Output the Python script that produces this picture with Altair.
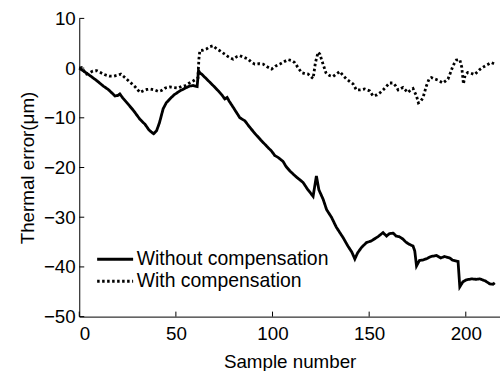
import altair as alt
import pandas as pd

# "Without compensation" series
wo_x = [0, 3, 5.5, 9, 12.4, 15, 18.5, 20, 21, 22.5, 24.5, 28, 31.4, 34, 36, 37.4, 38.5, 40, 41.5, 43.4,
        45, 46.9, 49, 52, 55, 57.2, 59, 61, 61.7, 62.5, 63.3, 65.9, 69, 72, 74, 75.3, 76.5, 77.5, 80, 83.1,
        85.7, 88.2, 91, 94, 97.7, 99.5, 101.2, 103, 105.5, 107, 109, 112, 115.8, 118, 121, 122.7, 124, 126.2,
        128, 130.5, 133, 136.5, 139, 141, 142.6, 144, 146, 148.6, 151, 154.6, 157.2, 159, 160.5, 162.4, 164,
        165.5, 167.5, 169, 170.5, 172.7, 173.6, 174.5, 176, 177.9, 180, 182, 184.8, 187, 189, 191.7, 193,
        196, 196.9, 198.5, 200.3, 203, 205.5, 207.2, 210, 212.4, 214.1, 215]
wo_y = [0, -0.8, -1.5, -2.5, -3.6, -4.3, -5.6, -5.5, -5.2, -6.0, -6.9, -8.5, -10.3, -11.3, -12.4, -12.9, -13.2, -12.6, -11.0, -8.2,
        -7.0, -6.2, -5.4, -4.6, -4.0, -3.6, -3.5, -3.7, -0.5, -1.0, -1.2, -2.2, -3.4, -4.6, -5.5, -6.2, -5.9, -6.6, -8.1, -10.0,
        -10.6, -11.9, -13.2, -14.5, -16.0, -16.7, -17.6, -18.0, -18.8, -19.8, -20.7, -21.8, -23.0, -24.3, -25.8, -21.7, -24.5, -26.4,
        -28.5, -30.0, -32.0, -34.1, -35.8, -37.0, -38.4, -37.2, -36.1, -35.1, -34.8, -33.9, -33.1, -33.8, -33.3, -33.2, -33.8,
        -33.9, -34.4, -35.0, -35.4, -35.8, -36.8, -39.8, -38.7, -38.6, -38.3, -37.9, -37.7, -38.2, -37.9, -38.2, -38.6,
        -38.9, -44.0, -43.0, -42.6, -42.4, -42.5, -42.4, -42.8, -43.4, -43.5, -43.2]

# "With compensation" series
w_x = [0, 1.2, 2.5, 3.8, 5, 7, 9, 11, 13, 15.5, 18, 20, 21.5, 23, 26.2, 29, 31.4, 33, 35, 36.6, 39, 41, 42.6,
       44.5, 46.9, 49, 51.2, 52.9, 55, 57, 58.9, 60.5, 61.4, 61.9, 62.4, 64, 66, 67.5, 69.3, 71, 72.7, 74.5,
       75.3, 77, 77.9, 79.6, 81.5, 83.1, 85, 87.4, 89, 90.8, 93, 95.1, 97, 99.5, 101.5, 103.8, 106, 108.1,
       110, 111.5, 113, 115, 116.7, 118.4, 120, 121, 122.2, 123.6, 124.5, 125.3, 126.5, 127.6, 129.5, 131.3,
       133, 134.8, 136.5, 138.3, 140, 141.7, 143.4, 145.5, 147.7, 150.3, 152, 154, 155.5, 157.2, 158.9, 160.5,
       162.4, 163.8, 165, 167.5, 170.1, 171.5, 172.7, 174.5, 175.5, 176.5, 177.9, 179.6, 181, 182.2, 184,
       185.5, 188.2, 190.8, 192.4, 193.4, 195.1, 196.9, 197.9, 198.8, 199.6, 201, 202.5, 204.6, 207.2, 209,
       210.7, 213.2, 215]
w_y = [0, 0.1, -0.6, -1.2, -1.0, -0.6, -0.5, -0.9, -1.3, -1.6, -1.6, -1.4, -1.2, -1.7, -2.8, -3.8, -4.9, -4.6, -4.3, -4.2, -4.4, -4.7, -4.5,
       -4.0, -3.8, -3.9, -4.0, -3.7, -3.5, -3.0, -2.6, -2.2, -2.0, 1.8, 3.5, 3.6, 3.9, 4.3, 4.5, 3.9, 3.5, 3.0,
       2.8, 2.3, 2.1, 1.8, 2.3, 2.5, 2.2, 1.8, 1.2, 0.8, 0.9, 0.8, 0.3, -0.2, 0.4, 0.8, 1.3, 1.7,
       1.5, 1.1, 0.2, -0.9, -1.1, -1.2, -1.8, -2.1, 1.1, 3.2, 2.8, 1.8, 0.4, -0.9, -1.5, -1.7,
       -1.2, -0.7, -1.5, -2.2, -2.7, -3.2, -4.4, -4.4, -4.2, -4.6, -5.6, -5.4, -5.0, -4.4, -3.7, -3.0,
       -3.0, -3.6, -4.4, -3.9, -4.9, -4.4, -4.1, -5.6, -7.0, -6.8, -5.9, -3.6, -2.2, -1.9, -2.2,
       -2.4, -3.0, -2.2, -0.6, 0.5, 1.6, 1.7, 0.2, -3.2, -1.5, -0.9, -1.0, -1.3, -0.3, 0.2,
       0.6, 1.1, 0.8]

series_names = ["Without compensation", "With compensation"]
x_ticks = [0, 50, 100, 150, 200]
y_ticks = [-50, -40, -30, -20, -10, 0, 10]
x_title = "Sample number"
y_title = "Thermal error(\u03bcm)"

df = pd.concat([
    pd.DataFrame({"x": wo_x, "y": wo_y, "series": series_names[0], "o": range(len(wo_x))}),
    pd.DataFrame({"x": w_x, "y": w_y, "series": series_names[1], "o": range(len(w_x))}),
])

W, H = 421, 298.4
FONT = "Liberation Sans"
FS = 18.8
LFS = 19.4

xscale = alt.Scale(domain=[0, 217.7], nice=False, zero=False)
yscale = alt.Scale(domain=[-50, 10], nice=False, zero=False)

xaxis = alt.Axis(values=x_ticks, ticks=False, grid=False, labelPadding=8,
                 titleBaseline="alphabetic", titleY=50.5, format="d")
yaxis = alt.Axis(values=y_ticks, ticks=False, grid=False, labelPadding=4,
                 titleBaseline="alphabetic", titleX=-46, titleY=H / 2, format="d")

lines = alt.Chart(df).mark_line(color="black", strokeWidth=2.8, strokeCap="butt").encode(
    x=alt.X("x:Q", scale=xscale, title=x_title, axis=xaxis),
    y=alt.Y("y:Q", scale=yscale, title=y_title, axis=yaxis),
    strokeDash=alt.StrokeDash("series:N",
                              scale=alt.Scale(domain=series_names, range=[[1, 0], [2.5, 2.5]]),
                              legend=alt.Legend(title=None, orient="none", legendX=25.4, legendY=230.5,
                                                symbolType="M-2,0L2,0", symbolSize=324, symbolStrokeWidth=2.8,
                                                symbolStrokeColor="black", labelOffset=11.1, rowPadding=2,
                                                labelFontSize=LFS, labelFont=FONT, labelColor="black",
                                                labelLimit=400, padding=0)),
    order="o:Q",
)

xt = alt.Chart(pd.DataFrame({"x": x_ticks})).mark_rule(color="black", strokeWidth=1).encode(
    x=alt.X("x:Q", scale=xscale, title=x_title, axis=xaxis),
    y=alt.value(H), y2=alt.value(H - 5),
)
yt = alt.Chart(pd.DataFrame({"y": y_ticks})).mark_rule(color="black", strokeWidth=1).encode(
    y=alt.Y("y:Q", scale=yscale, title=y_title, axis=yaxis),
    x=alt.value(0), x2=alt.value(5),
)

chart = alt.layer(lines, xt, yt).properties(
    width=W, height=H,
    autosize=alt.AutoSizeParams(type="none"),
    padding={"left": 79.3, "top": 18.3, "right": 0, "bottom": 54.3},
).configure_view(stroke=None).configure_axis(
    labelFont=FONT, labelFontSize=FS, labelColor="black",
    titleFont=FONT, titleFontSize=FS, titleColor="black", titleFontWeight="normal",
    domainColor="black", domainWidth=1,
)

chart.save("out.html", embed_options={"renderer": "svg", "actions": False})
